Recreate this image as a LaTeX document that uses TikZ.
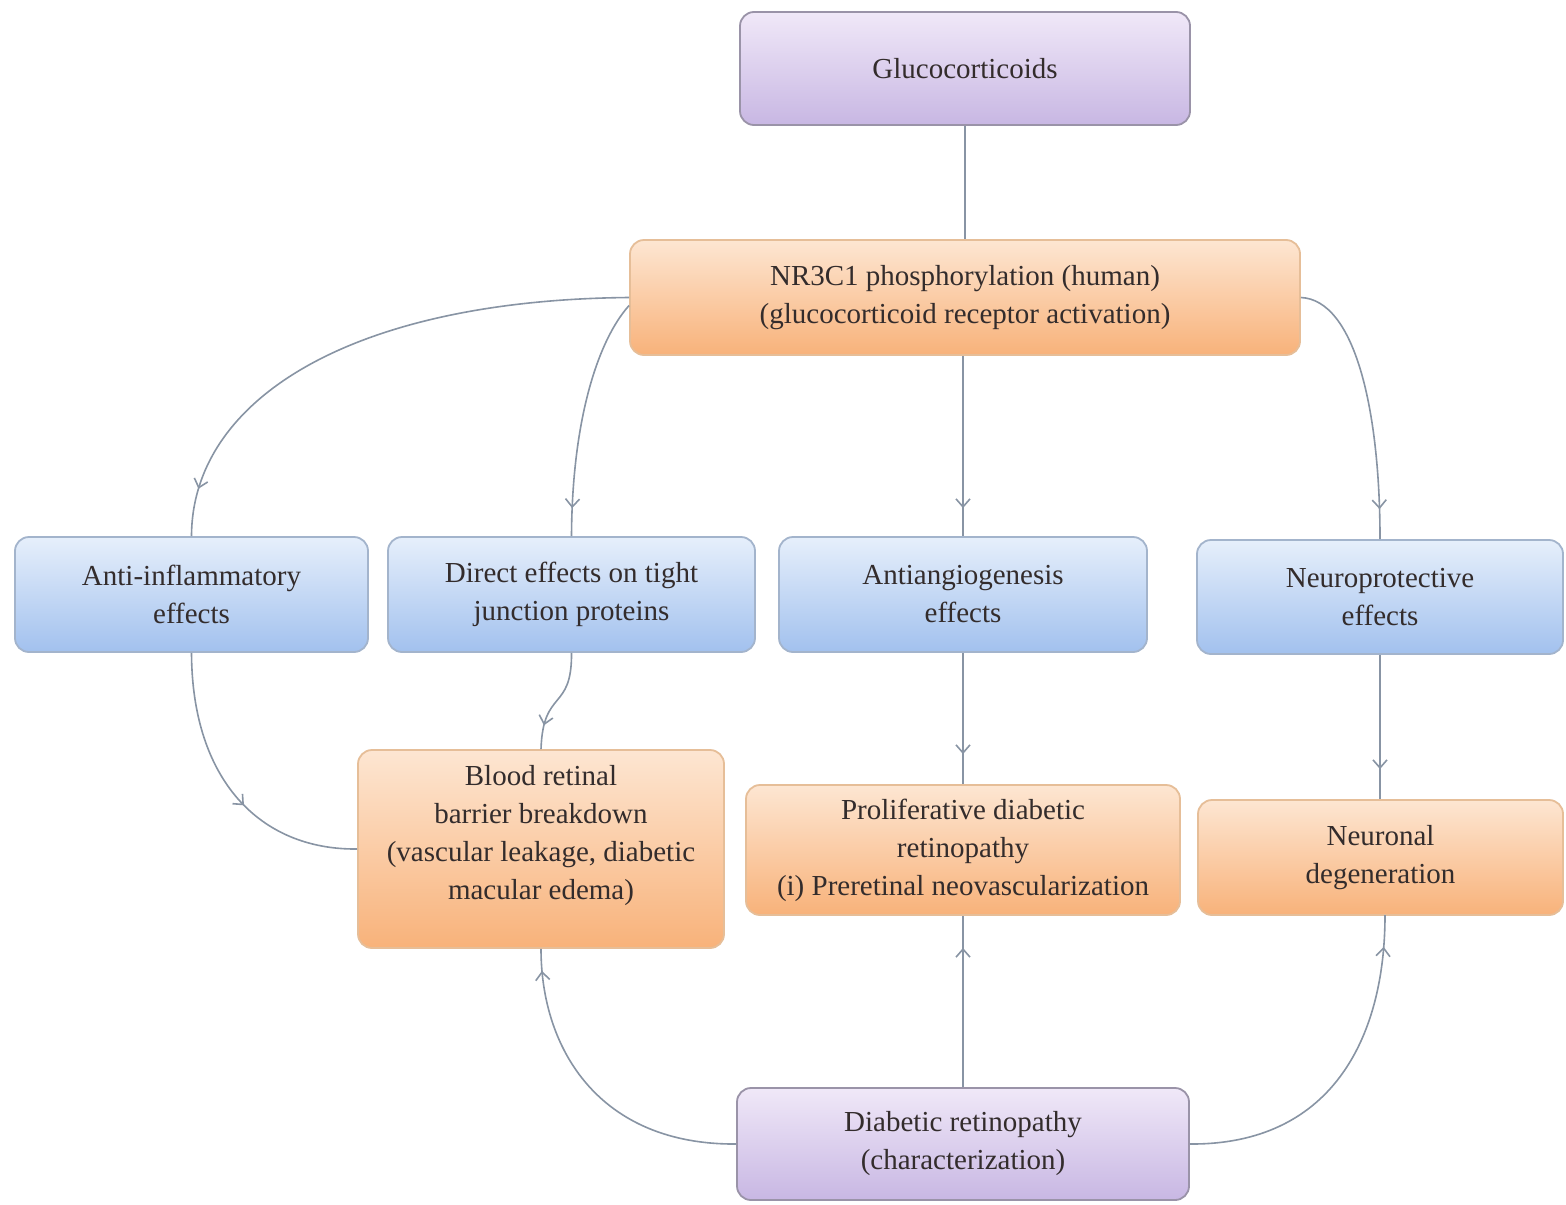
\documentclass[tikz,border=0pt]{standalone}
\usepackage{fontspec}
\setmainfont{Liberation Serif}
\usetikzlibrary{arrows.meta,decorations.markings}
\definecolor{purT}{HTML}{F0E8F8}
\definecolor{purB}{HTML}{C8B7E3}
\definecolor{purL}{HTML}{9A93A8}
\definecolor{orT}{HTML}{FDE6D2}
\definecolor{orB}{HTML}{F8B27A}
\definecolor{orL}{HTML}{E6BE98}
\definecolor{blT}{HTML}{E6EFFB}
\definecolor{blB}{HTML}{A2C1EE}
\definecolor{blL}{HTML}{A3B4CC}
\definecolor{lineC}{HTML}{8894A4}
\definecolor{txt}{HTML}{332C2C}
\tikzset{
  box/.style={rounded corners=7pt, line width=0.9pt, inner sep=0pt, align=center,
    text=txt, font=\fontsize{14.5}{19}\selectfont},
  purp/.style={box, draw=purL, top color=purT, bottom color=purB},
  oran/.style={box, draw=orL, top color=orT, bottom color=orB},
  blu/.style={box, draw=blL, top color=blT, bottom color=blB},
  conn/.style={draw=lineC, line width=0.8pt},
  tipat/.style={postaction={decorate}, decoration={markings,
    mark=at position #1 with {\arrow[lineC, line width=0.8pt]{Straight Barb[length=4pt,width=7pt]}}}},
}
\begin{document}
\begin{tikzpicture}[x=0.5pt,y=-0.5pt]
\useasboundingbox (0,0) rectangle (1566,1204);
\fill[white] (0,0) rectangle (1566,1204);

\node[purp, minimum width=225pt, minimum height=56.5pt] (gluco) at (965,68.5) {Glucocorticoids};
\node[oran, minimum width=335pt, minimum height=57.5pt] (nr) at (965,297.5) {NR3C1 phosphorylation (human)\\(glucocorticoid receptor activation)};
\node[blu, minimum width=176.5pt, minimum height=57.5pt] (anti) at (191.5,594.5) {Anti-inflammatory\\effects};
\node[blu, minimum width=183.5pt, minimum height=57.5pt] (direct) at (571.5,594.5) {Direct effects on tight\\junction proteins};
\node[blu, minimum width=184pt, minimum height=57.5pt] (angio) at (963,594.5) {Antiangiogenesis\\effects};
\node[blu, minimum width=183pt, minimum height=57pt] (neuro) at (1380,597) {Neuroprotective\\effects};
\node[oran, minimum width=183pt, minimum height=99pt] (brb) at (541,849) {Blood retinal\\barrier breakdown\\(vascular leakage, diabetic\\macular edema)\rule[-17pt]{0pt}{1pt}};
\node[oran, minimum width=217pt, minimum height=65pt] (pdr) at (963,850) {Proliferative diabetic\\retinopathy\\(i) Preretinal neovascularization};
\node[oran, minimum width=182.5pt, minimum height=57.5pt] (neuronal) at (1380.5,857.5) {Neuronal\\degeneration};
\node[purp, minimum width=226pt, minimum height=56pt] (dr) at (963,1144) {Diabetic retinopathy\\(characterization)};

% connectors
\draw[conn] (gluco.south) -- (gluco.south |- nr.north);
\draw[conn, tipat=-24pt] (nr.west) .. controls (350,300) and (192,400) .. (anti.north);
\draw[conn, tipat=-14pt] ([yshift=-4pt]nr.west) .. controls (598,340) and (572,420) .. (direct.north);
\draw[conn, tipat=-14pt] (nr.south -| angio.north) -- (angio.north);
\draw[conn, tipat=-15pt] (nr.east) .. controls (1355,300) and (1380,410) .. (neuro.north);
\draw[conn, tipat=0.57] (anti.south) .. controls (192,780) and (260,850) .. (brb.west);
\draw[conn, tipat=-12pt] (direct.south) .. controls (572,712) and (543,688) .. (brb.north);
\draw[conn, tipat=-15pt] (angio.south) -- (pdr.north);
\draw[conn, tipat=-15pt] (neuro.south) -- (neuro.south |- neuronal.north);
\draw[conn, tipat=-11pt] (dr.west) .. controls (600,1145) and (541,1050) .. (brb.south);
\draw[conn, tipat=-16pt] (dr.north) -- (dr.north |- pdr.south);
\draw[conn, tipat=-16pt] (dr.east) .. controls (1330,1145) and (1385,1040) .. (1385,915);
\end{tikzpicture}
\end{document}
